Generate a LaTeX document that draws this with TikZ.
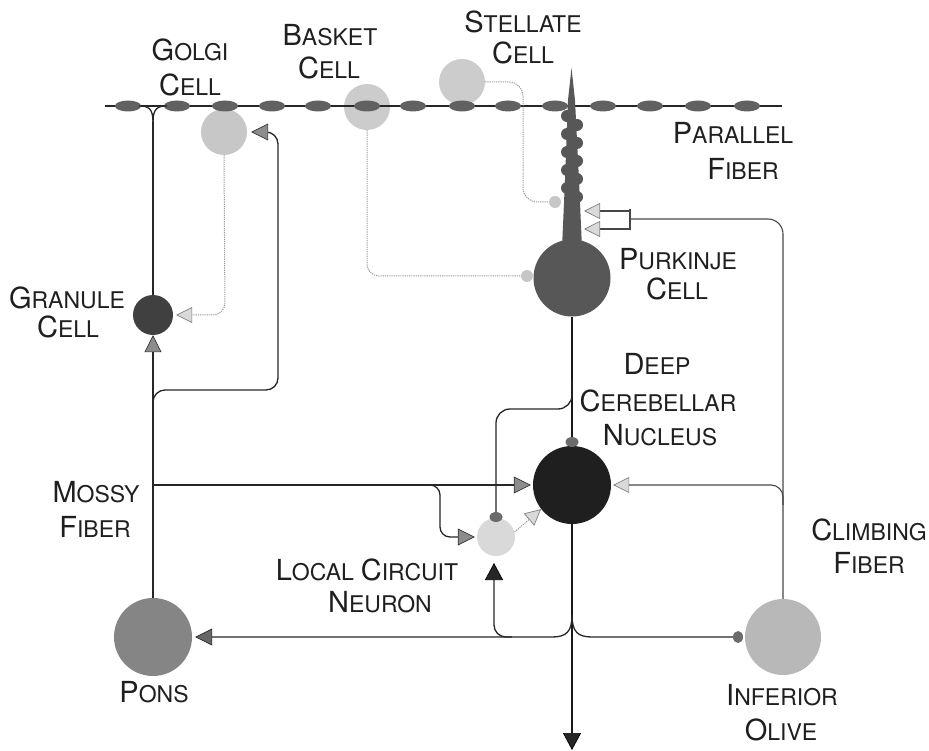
\documentclass[tikz,border=0pt]{standalone}
\usepackage{fontspec}
\setmainfont{TeX Gyre Heros}
\usetikzlibrary{arrows.meta,shapes.geometric}
\newcommand\SCw[2]{{\fontsize{29}{34}\selectfont #1}{\fontsize{23}{34}\selectfont #2}}
\tikzset{
  cell/.style={circle, inner sep=0pt, draw=none},
  vari/.style={ellipse, inner sep=0pt, minimum width=26pt, minimum height=11pt, fill=black!62},
  spine/.style={circle, inner sep=0pt, minimum size=12pt, fill=black!66},
  knob/.style={ellipse, inner sep=0pt, minimum width=13pt, minimum height=10pt, fill=black!58},
  lknob/.style={circle, inner sep=0pt, minimum size=12pt, fill=black!22},
  lbl/.style={inner sep=0pt, text=black!88},
  fiber/.style={line width=1.3pt, draw=black!85},
  thickfiber/.style={line width=2pt, draw=black!90},
  inhib/.style={line width=1pt, draw=black!40, dash pattern=on 1.2pt off 1pt},
  climb/.style={line width=1.1pt, draw=black!72},
  tipmid/.style={-{Triangle[length=17pt,width=17pt,fill=black!45,color=black!80,line width=0.7pt]}},
  tiplight/.style={-{Triangle[length=16pt,width=16pt,fill=black!15,color=black!50,line width=0.7pt]}},
  tipdark/.style={-{Triangle[length=17pt,width=17pt,fill=black!60,color=black!85,line width=0.7pt]}},
  tipblack/.style={-{Triangle[length=17pt,width=18pt,fill=black!85,color=black,line width=0.7pt]}},
}
\begin{document}
\begin{tikzpicture}[x=1pt,y=-1pt]
\useasboundingbox (0,0) rectangle (929,751);
% light interneurons
\node[cell, fill=black!22, minimum size=46pt] (golgi) at (224,132) {};
\node[cell, fill=black!20, minimum size=46pt] (basket) at (367,107) {};
\node[cell, fill=black!20, minimum size=46pt] (stellate) at (462,82) {};
% parallel fiber
\coordinate (pfL) at (105,106);
\coordinate (pfR) at (782,106);
\draw[fiber] (pfL) -- (pfR);
\foreach \x in {128,177,225,272,318,367,413,462,508,555,603,650,698,747}
  \node[vari] (v\x) at (\x,106) {};
% Purkinje dendrite
\fill[black!66] (571.5,68) -- (575,100) -- (579,180) -- (582,248) -- (562,248) -- (565,180) -- (568,100) -- cycle;
\foreach \y in {116,134,152,170,188} \node[spine] (sl\y) at (567,\y) {};
\foreach \y in {125,143,161,179,197} \node[spine] (sr\y) at (577,\y) {};
% cells
\node[cell, fill=black!66, minimum size=77pt] (purk) at (572,278) {};
\node[cell, fill=black!75, minimum size=40pt] (gran) at (153,315) {};
\node[cell, fill=black!88, minimum size=78pt] (dcn) at (572,485) {};
\node[cell, fill=black!15, minimum size=38pt] (lcn) at (496,537) {};
\node[cell, fill=black!48, minimum size=78pt] (pons) at (153,637) {};
\node[cell, fill=black!28, minimum size=76pt] (io) at (783,637) {};
% terminals
\node[knob] (pterm) at (572,442) {};
\node[knob] (lterm) at (496,517) {};
\node[knob, minimum width=10pt, minimum height=12pt] (oterm) at (738,637) {};
\node[lknob] (bterm) at (527,276) {};
\node[lknob] (sterm) at (555,202) {};
% granule axon
\coordinate (gT) at (153,122);
\draw[fiber] (gran.north) -- (gT);
\draw[fiber] (gT) .. controls (153,108) and (148,106) .. (139,106);
\draw[fiber] (gT) .. controls (153,108) and (158,106) .. (167,106);
% mossy fiber
\draw[fiber, tipmid] (pons.north) -- (gran.south);
\coordinate (m1) at (153,410);
\draw[fiber, rounded corners=12pt, tipmid] (m1) -- (153,390) -- (278,390) -- (278,132) -- ([xshift=4pt]golgi.east);
\coordinate (m2) at (153,485);
\draw[fiber, tipmid] (m2) -- ([xshift=-2pt]dcn.west);
\coordinate (m3) at (420,485);
\draw[fiber, rounded corners=10pt, tipmid] (m3) -- (440,485) -- (440,537) -- ([xshift=-2pt]lcn.west);
% inhibitory interneurons
\draw[inhib, rounded corners=12pt, tiplight] (golgi.south) -- (225,315) -- ([xshift=3pt]gran.east);
\draw[inhib, rounded corners=12pt] (basket.south) -- (367,276) -- (bterm.west);
\draw[inhib, rounded corners=14pt] (stellate.east) -- (523,82) -- (523,202) -- (sterm.west);
% Purkinje axon
\draw[thickfiber] (purk.south) -- (pterm.north);
\coordinate (pc) at (572,380);
\draw[fiber, rounded corners=14pt] (pc) -- (572,409) -- (496,409) -- (lterm.north);
% LCN to DCN
\draw[inhib, tiplight] (lcn.15) -- (dcn.218);
% DCN output
\coordinate (out) at (572,750);
\draw[thickfiber, tipblack] (dcn.south) -- (out);
\coordinate (dj) at (572,615);
\draw[fiber, tipdark] (dj) .. controls (572,632) and (566,637) .. (552,637) -- ([xshift=3pt]pons.east);
\draw[fiber] (dj) .. controls (572,632) and (578,637) .. (592,637) -- (oterm.west);
\coordinate (lb) at (512,637);
\draw[fiber, rounded corners=12pt, tipblack] (lb) -- (494,637) -- (494,563);
% climbing fiber
\draw[climb, rounded corners=15pt] (io.north) -- (783,219) -- (631,219);
\coordinate (ft) at (630,209);
\coordinate (fb) at (630,230);
\draw[climb] (ft) -- (fb);
\coordinate (c1) at (630,211);
\coordinate (c2) at (630,229);
\draw[climb, tiplight] (c1) -- (584,211);
\draw[climb, tiplight] (c2) -- (584,229);
\coordinate (c3) at (783,505);
\draw[climb, rounded corners=12pt, tiplight] (c3) -- (783,485) -- ([xshift=2pt]dcn.east);
% labels
\node[lbl] (tg1) at (190,50) {\SCw{G}{OLGI}};
\node[lbl] (tg2) at (190,85) {\SCw{C}{ELL}};
\node[lbl] (tb1) at (330,35) {\SCw{B}{ASKET}};
\node[lbl] (tb2) at (329,68) {\SCw{C}{ELL}};
\node[lbl] (ts1) at (523,22) {\SCw{S}{TELLATE}};
\node[lbl] (ts2) at (523,53) {\SCw{C}{ELL}};
\node[lbl] (tp1) at (733,133) {\SCw{P}{ARALLEL}};
\node[lbl] (tp2) at (743,169) {\SCw{F}{IBER}};
\node[lbl] (tk1) at (678,259) {\SCw{P}{URKINJE}};
\node[lbl] (tk2) at (677,289) {\SCw{C}{ELL}};
\node[lbl] (td1) at (657,364) {\SCw{D}{EEP}};
\node[lbl] (td2) at (658,401) {\SCw{C}{EREBELLAR}};
\node[lbl] (td3) at (660,435) {\SCw{N}{UCLEUS}};
\node[lbl] (tr1) at (67,298) {\SCw{G}{RANULE}};
\node[lbl] (tr2) at (68,327) {\SCw{C}{ELL}};
\node[lbl] (tm1) at (96,492) {\SCw{M}{OSSY}};
\node[lbl] (tm2) at (95,527) {\SCw{F}{IBER}};
\node[lbl] (tl1) at (367,570) {\SCw{L}{OCAL}\hspace{7pt}\SCw{C}{IRCUIT}};
\node[lbl] (tl2) at (380,602) {\SCw{N}{EURON}};
\node[lbl] (tc1) at (869,530) {\SCw{C}{LIMBING}};
\node[lbl] (tc2) at (869,563) {\SCw{F}{IBER}};
\node[lbl] (tn1) at (154,692) {\SCw{P}{ONS}};
\node[lbl] (ti1) at (782,695) {\SCw{I}{NFERIOR}};
\node[lbl] (ti2) at (781,730) {\SCw{O}{LIVE}};
\end{tikzpicture}
\end{document}
